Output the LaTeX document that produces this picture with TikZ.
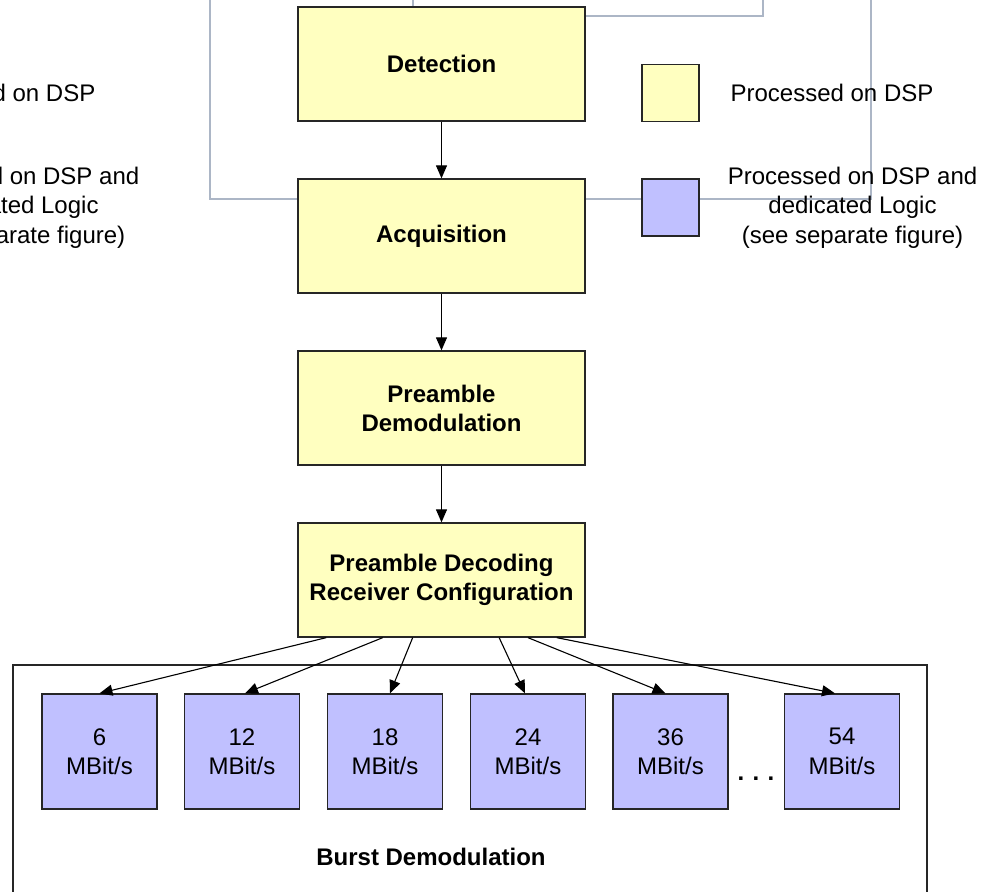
\documentclass[tikz,border=0pt]{standalone}
\usepackage{fontspec}
\setmainfont{Liberation Sans}
\usetikzlibrary{arrows.meta,calc}
\definecolor{dspyellow}{RGB}{255,255,192}
\definecolor{logicblue}{RGB}{192,192,255}
\definecolor{framegray}{RGB}{172,182,198}
\begin{document}
\begin{tikzpicture}[x=1pt,y=-1pt,
  every node/.style={font=\fontsize{24}{29.5}\selectfont},
  stage/.style={draw=black!85, line width=1.3pt, fill=dspyellow,
    minimum width=287pt, minimum height=114pt, inner sep=0pt,
    font=\fontsize{24}{29}\selectfont\bfseries, align=center},
  rate/.style={draw=black!85, line width=1.3pt, fill=logicblue,
    minimum width=115pt, minimum height=115pt, inner sep=0pt, align=center},
  keybox/.style={draw=black!85, line width=1.3pt,
    minimum width=57pt, minimum height=57pt, inner sep=0pt},
  flow/.style={line width=1.1pt, -{Triangle[length=13pt,width=11pt]}},
  guide/.style={draw=framegray, line width=1.8pt},
]
\useasboundingbox (0,0) rectangle (994,892);
\clip (0,0) rectangle (994,892);

% faint guide frames behind the chain
\draw[guide] (210,-5) -- (210,199) -- (871,199) -- (871,-5);
\draw[guide] (413,-5) -- (413,16) -- (763,16) -- (763,-5);

% shifted copies of the key texts, cut off at the left edge
\node (ghostdsp) at (-6,93) {Processed on DSP};
\node[align=center] (ghostlogic) at (14.5,207.5)
  {Processed on DSP and\\dedicated Logic\\(see separate figure)};

% processing chain
\node[stage] (det)  at (441.5,64)  {Detection};
\node[stage] (acq)  at (441.5,236) {Acquisition};
\node[stage] (pdem) at (441.5,408) {Preamble\\Demodulation};
\node[stage] (pdec) at (441.5,580) {Preamble Decoding\\Receiver Configuration};

\draw[flow] (det.south)  -- (acq.north);
\draw[flow] (acq.south)  -- (pdem.north);
\draw[flow] (pdem.south) -- (pdec.north);

% burst demodulation block
\node[draw=black!85, line width=1.3pt, minimum width=914pt, minimum height=260pt,
  inner sep=0pt] (burst) at (470,795) {};
\node[font=\fontsize{24}{29}\selectfont\bfseries] (burstlabel) at (431,857) {Burst Demodulation};

\node[rate] (r6)  at (99.5,751.5)  {6\\MBit/s};
\node[rate] (r12) at (242,751.5)   {12\\MBit/s};
\node[rate] (r18) at (385,751.5)   {18\\MBit/s};
\node[rate] (r24) at (528,751.5)   {24\\MBit/s};
\node[rate] (r36) at (670.5,751.5) {36\\MBit/s};
\node[rate] (r54) at (842,751.5)   {54\\MBit/s};
\node[anchor=base, font=\fontsize{24}{29}\selectfont\bfseries] (dots) at (756,780)
  {.\kern8.3pt.\kern8.3pt.};

\draw[flow] ($(pdec.south west)!0.10!(pdec.south east)$) -- (r6.north);
\draw[flow] ($(pdec.south west)!0.296!(pdec.south east)$) -- ($(r12.north)+(3,0)$);
\draw[flow] ($(pdec.south west)!0.40!(pdec.south east)$) -- ($(r18.north)+(5,0)$);
\draw[flow] ($(pdec.south west)!0.70!(pdec.south east)$) -- ($(r24.north)+(-3,0)$);
\draw[flow] ($(pdec.south west)!0.80!(pdec.south east)$) -- ($(r36.north)+(-5,0)$);
\draw[flow] ($(pdec.south west)!0.90!(pdec.south east)$) -- ($(r54.north)+(-7,0)$);

% key
\node[keybox, fill=dspyellow] (keydsp)   at (670.5,93)    {};
\node[keybox, fill=logicblue] (keylogic) at (670.5,207.5) {};
\node (textdsp) at (832,93) {Processed on DSP};
\node[align=center] (textlogic) at (852.5,207.5)
  {Processed on DSP and\\dedicated Logic\\(see separate figure)};
\end{tikzpicture}
\end{document}
